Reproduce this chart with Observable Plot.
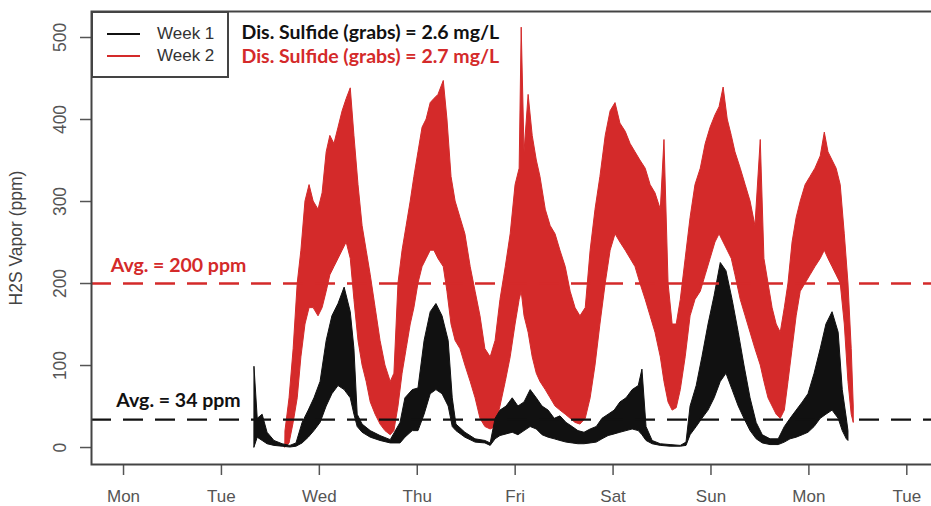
<!DOCTYPE html>
<html>
<head>
<meta charset="utf-8">
<script src="https://cdn.jsdelivr.net/npm/d3@7"></script>
<script src="https://cdn.jsdelivr.net/npm/@observablehq/plot@0.6"></script>
<style>
  html, body { margin: 0; padding: 0; background: #fff; overflow: hidden; }
  #wrap { position: relative; width: 931px; height: 506px; overflow: hidden; }
  #legend { position: absolute; left: 91px; top: 11px; width: 134px; height: 63px;
    border: 2px solid #444; background: #fff; font-family: "Liberation Sans", Arial, sans-serif;
    font-size: 17px; color: #333; }
  .row { position: absolute; left: 0; height: 20px; display: flex; align-items: center; }
  .sw { width: 33px; height: 0; border-top: 2px solid; margin-left: 14px; margin-right: 17px; }
</style>
</head>
<body>
<div id="wrap"></div>
<script>
// ---- data (hours since Monday 00:00) ----
const seriesNames = ["Week 1", "Week 2"];
const sulfideMgL = [2.6, 2.7];
const avgPpm = [34, 200];
const dayLabels = ["Mon", "Tue", "Wed", "Thu", "Fri", "Sat", "Sun", "Mon", "Tue"];
const dayTicks = [0, 24, 48, 72, 96, 120, 144, 168, 192];
const yTicks = [0, 100, 200, 300, 400, 500];

const week1Hours = [32.1,32.9,34.1,35.3,37.0,39.0,40.9,42.4,43.9,45.4,46.8,48.3,49.8,51.2,52.7,54.2,55.7,56.6,57.4,58.6,60.6,63.0,65.5,67.9,69.1,70.9,72.3,73.8,75.3,76.7,78.2,79.7,80.7,81.6,83.8,86.3,88.7,90.0,91.2,92.4,93.9,95.4,96.8,98.3,99.8,101.3,102.7,104.2,105.7,107.1,108.6,110.1,111.5,113.0,114.5,116.0,117.4,118.9,120.4,121.8,123.3,124.8,126.3,127.2,128.2,129.7,131.7,134.1,136.6,138.0,139.0,140.5,141.9,143.4,144.9,146.4,147.8,149.3,150.8,152.2,153.7,155.2,156.7,158.6,160.6,162.1,163.5,165.0,166.5,167.9,169.4,170.9,172.3,173.8,175.3,176.3,177.3,177.7];
const week1Low =   [0,12,8,4,2,1,0,1,5,12,20,30,50,65,75,70,60,40,25,18,12,8,5,5,12,20,20,40,65,70,65,50,25,20,12,6,5,2,10,14,16,18,15,20,25,22,15,12,10,8,6,5,4,4,5,6,10,14,16,18,20,22,20,15,8,4,2,1,1,2,15,25,35,45,60,80,90,70,50,35,20,10,5,3,3,6,10,12,15,18,25,35,40,45,35,20,10,8];
const week1High =  [98,35,40,18,8,4,2,5,30,45,60,80,130,160,175,195,165,120,40,28,20,14,9,30,60,70,72,130,165,175,160,130,60,28,18,10,8,5,35,45,50,60,50,55,70,60,50,45,35,38,30,25,20,18,22,25,35,40,45,55,60,70,75,95,25,8,4,3,2,6,50,75,110,150,185,225,215,180,140,100,60,30,15,10,10,25,35,45,55,65,90,120,150,165,140,70,35,20];

const week2Hours = [39.7,40.7,41.7,42.7,43.6,44.6,45.6,46.6,47.8,48.8,49.8,50.7,51.7,52.7,53.7,54.7,55.7,56.6,57.6,58.6,59.6,60.6,61.8,63.0,64.2,65.5,66.4,67.4,68.4,69.4,70.4,71.3,72.3,73.3,74.3,75.3,76.2,77.2,78.5,79.4,80.4,81.4,82.6,83.8,85.1,86.3,87.5,88.7,90.0,91.2,92.4,93.7,94.9,96.1,97.1,97.6,98.3,99.3,100.3,101.3,102.2,103.5,104.7,105.9,107.1,108.4,109.6,110.8,112.0,113.3,114.5,115.7,116.9,118.2,119.4,120.6,121.8,123.1,124.3,125.5,126.7,128.0,129.2,130.4,131.7,132.6,133.6,134.6,135.6,136.6,137.8,139.0,140.2,141.5,142.7,143.9,145.1,146.1,147.1,148.1,149.1,150.0,151.3,152.5,153.7,154.9,156.2,157.1,158.1,159.1,160.1,161.1,162.1,163.0,164.0,165.0,166.0,167.2,168.4,169.6,170.9,171.9,172.8,173.8,174.8,175.8,176.8,177.7,178.5,179.0];
const week2Low =   [0,5,30,60,110,150,170,170,160,170,190,210,220,230,240,250,230,180,130,100,80,55,40,28,20,15,20,50,90,120,150,170,200,220,230,240,240,230,220,190,150,130,120,100,80,60,35,25,22,25,50,80,110,150,180,190,160,140,110,90,80,70,60,50,45,40,35,30,28,35,60,100,150,200,240,260,250,240,230,220,200,180,160,140,110,80,55,45,48,70,110,160,180,190,210,230,250,260,250,240,230,210,180,160,140,120,100,80,60,50,40,35,45,80,120,160,190,200,210,220,230,240,230,220,210,200,150,80,40,30];
const week2High =  [20,60,120,200,240,300,320,300,290,310,360,380,370,390,410,425,438,380,320,270,240,210,170,130,100,80,90,200,240,270,300,330,360,390,400,420,425,430,447,400,330,300,280,260,220,190,160,120,110,130,180,220,260,320,340,512,360,430,380,350,330,290,270,260,240,220,190,170,160,170,240,290,330,380,410,420,395,385,370,360,350,340,320,310,290,375,200,150,150,180,230,280,320,340,370,390,405,415,439,400,380,360,340,320,300,270,375,230,200,170,150,140,170,200,250,280,300,320,330,340,355,384,360,350,340,320,260,200,120,50];

const week1 = week1Hours.map((t, i) => ({t, lo: week1Low[i], hi: week1High[i]}));
const week2 = week2Hours.map((t, i) => ({t, lo: week2Low[i], hi: week2High[i]}));

const RED = "#d42a2a";
const BLACK = "#111111";
const calibri = "Lato, 'Open Sans', sans-serif";
const annSize = 19.5;

const chart = Plot.plot({
  width: 931,
  height: 506,
  marginLeft: 91,
  marginRight: -1,
  marginTop: 11,
  marginBottom: 42,
  x: {domain: [-7.85, 198.3]},
  y: {domain: [-20.7, 531.7]},
  style: {fontFamily: "'Liberation Sans', Arial, sans-serif", background: "#fff"},
  marks: [
    Plot.areaY(week2, {x: "t", y1: "lo", y2: "hi", fill: RED, stroke: RED, strokeWidth: 1, curve: "linear"}),
    Plot.areaY(week1, {x: "t", y1: "lo", y2: "hi", fill: BLACK, stroke: BLACK, strokeWidth: 1, curve: "linear"}),
    Plot.ruleY([avgPpm[1]], {stroke: RED, strokeWidth: 2.3, strokeDasharray: "20,12"}),
    Plot.ruleY([avgPpm[0]], {stroke: BLACK, strokeWidth: 2.3, strokeDasharray: "20,12"}),
    Plot.text([avgPpm[1]], {y: d => d, text: d => `Avg. = ${d} ppm`, frameAnchor: "left", dx: 87, dy: -18,
      fill: RED, fontWeight: 700, fontSize: annSize, fontFamily: calibri, textAnchor: "middle"}),
    Plot.text([avgPpm[0]], {y: d => d, text: d => `Avg. = ${d} ppm`, frameAnchor: "left", dx: 87, dy: -19,
      fill: BLACK, fontWeight: 700, fontSize: annSize, fontFamily: calibri, textAnchor: "middle"}),
    Plot.text([sulfideMgL[0]], {text: d => `Dis. Sulfide (grabs) = ${d} mg/L`, frameAnchor: "top-left", dx: 150, dy: 21,
      fill: BLACK, fontWeight: 700, fontSize: annSize, fontFamily: calibri, textAnchor: "start", lineAnchor: "middle"}),
    Plot.text([sulfideMgL[1]], {text: d => `Dis. Sulfide (grabs) = ${d} mg/L`, frameAnchor: "top-left", dx: 150, dy: 45,
      fill: RED, fontWeight: 700, fontSize: annSize, fontFamily: calibri, textAnchor: "start", lineAnchor: "middle"}),
    Plot.axisX({ticks: dayTicks, tickFormat: d => dayLabels[dayTicks.indexOf(d)], tickSize: 11, tickPadding: 14,
      fontSize: 17, color: "#555", label: null, strokeWidth: 1.5}),
    Plot.axisY({ticks: yTicks, tickFormat: () => "", tickSize: 11, color: "#555", label: null, strokeWidth: 1.5}),
    Plot.text(yTicks, {y: d => d, text: d => String(d), frameAnchor: "left", dx: -31, rotate: -90,
      textAnchor: "middle", lineAnchor: "middle", fontSize: 17.5, fill: "#555"}),
    Plot.text(["H2S Vapor (ppm)"], {text: d => d, frameAnchor: "left", dx: -75, rotate: -90,
      textAnchor: "middle", lineAnchor: "middle", fontSize: 17.5, fill: "#444"}),
    Plot.frame({stroke: "#444", strokeWidth: 2})
  ]
});

const wrap = document.getElementById("wrap");
wrap.appendChild(chart);

// legend (HTML overlay)
const legend = document.createElement("div");
legend.id = "legend";
const colors = [BLACK, RED];
seriesNames.forEach((name, i) => {
  const row = document.createElement("div");
  row.className = "row";
  row.style.top = (11 + i * 22) + "px";
  const sw = document.createElement("span");
  sw.className = "sw";
  sw.style.borderTopColor = colors[i];
  const lab = document.createElement("span");
  lab.textContent = name;
  row.appendChild(sw);
  row.appendChild(lab);
  legend.appendChild(row);
});
wrap.appendChild(legend);
</script>
</body>
</html>
